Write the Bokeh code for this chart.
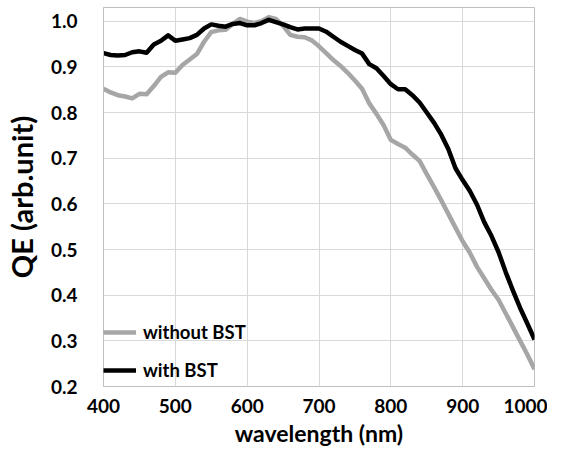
from bokeh.plotting import figure
from bokeh.models import ColumnDataSource, FixedTicker, Range1d, Legend, LegendItem, NumeralTickFormatter
from bokeh.embed import file_html
from bokeh.resources import INLINE

wavelength = list(range(400, 1001, 10))

with_bst = [0.930, 0.926, 0.925, 0.926, 0.932, 0.934, 0.931, 0.949, 0.957, 0.969,
            0.957, 0.960, 0.963, 0.970, 0.984, 0.993, 0.990, 0.988, 0.994, 0.996,
            0.991, 0.991, 0.996, 1.003, 0.998, 0.993, 0.987, 0.982, 0.984, 0.984,
            0.984, 0.977, 0.966, 0.955, 0.946, 0.937, 0.929, 0.906, 0.897, 0.880,
            0.862, 0.851, 0.851, 0.838, 0.822, 0.800, 0.778, 0.752, 0.720, 0.678,
            0.652, 0.628, 0.598, 0.560, 0.530, 0.494, 0.450, 0.410, 0.372, 0.338,
            0.303]

without_bst = [0.852, 0.844, 0.838, 0.835, 0.831, 0.841, 0.840, 0.858, 0.878, 0.888,
               0.887, 0.904, 0.916, 0.928, 0.955, 0.976, 0.980, 0.981, 0.994, 1.005,
               0.999, 0.996, 1.000, 1.009, 1.005, 0.990, 0.970, 0.966, 0.965, 0.958,
               0.945, 0.930, 0.915, 0.902, 0.887, 0.870, 0.852, 0.820, 0.797, 0.772,
               0.740, 0.731, 0.723, 0.708, 0.694, 0.665, 0.637, 0.608, 0.578, 0.548,
               0.518, 0.493, 0.462, 0.437, 0.412, 0.390, 0.360, 0.330, 0.300, 0.270,
               0.238]

x_ticks = [400, 500, 600, 700, 800, 900, 1000]
y_ticks = [0.2, 0.3, 0.4, 0.5, 0.6, 0.7, 0.8, 0.9, 1.0]

src = ColumnDataSource(dict(x=wavelength, w=with_bst, wo=without_bst))

FONT = "Lato"

p = figure(width=547, height=449, output_backend="svg", toolbar_location=None,
           x_range=Range1d(400, 1000), y_range=Range1d(0.2, 1.03),
           min_border_left=99, min_border_right=13, min_border_top=7, min_border_bottom=10)
p.background_fill_color = "white"
p.border_fill_color = "white"
p.outline_line_color = "#bfbfbf"
p.outline_line_width = 1

for ax in (p.xaxis[0], p.yaxis[0]):
    ax.axis_line_color = "#bfbfbf"
    ax.major_tick_line_color = None
    ax.minor_tick_line_color = None
    ax.major_tick_out = 0
    ax.major_tick_in = 0
    ax.minor_tick_out = 0
    ax.major_label_text_font = FONT
    ax.major_label_text_font_style = "bold"
    ax.major_label_text_font_size = "19px"
    ax.major_label_text_color = "black"
    ax.axis_label_text_font = FONT
    ax.axis_label_text_font_style = "bold"
    ax.axis_label_text_color = "black"

p.xaxis.ticker = FixedTicker(ticks=x_ticks)
p.yaxis.ticker = FixedTicker(ticks=y_ticks)
p.yaxis.formatter = NumeralTickFormatter(format="0.0")
p.xaxis.axis_label = "wavelength (nm)"
p.yaxis.axis_label = "QE (arb.unit)"
p.xaxis.axis_label_text_font_size = "23px"
p.yaxis.axis_label_text_font_size = "29px"
p.xaxis.major_label_standoff = 12
p.yaxis.major_label_standoff = 26
p.xaxis.axis_label_standoff = 3
p.yaxis.axis_label_standoff = 9

p.xgrid.ticker = FixedTicker(ticks=x_ticks)
p.ygrid.ticker = FixedTicker(ticks=y_ticks)
p.grid.grid_line_color = "#d9d9d9"
p.grid.grid_line_width = 1

r_wo = p.line("x", "wo", source=src, line_color="#a6a6a6", line_width=4.5, line_join="round")
r_w = p.line("x", "w", source=src, line_color="black", line_width=4.5, line_join="round")

legend = Legend(items=[LegendItem(label="without BST", renderers=[r_wo]),
                       LegendItem(label="with BST", renderers=[r_w])],
                location=(0, 5), padding=3, margin=0, spacing=16,
                glyph_width=33, glyph_height=20, label_height=20, label_standoff=7,
                border_line_color=None, background_fill_alpha=0,
                label_text_font=FONT, label_text_font_style="bold",
                label_text_font_size="18.5px", label_text_color="black")
p.add_layout(legend)

open("out.html", "w").write(file_html(p, INLINE))
